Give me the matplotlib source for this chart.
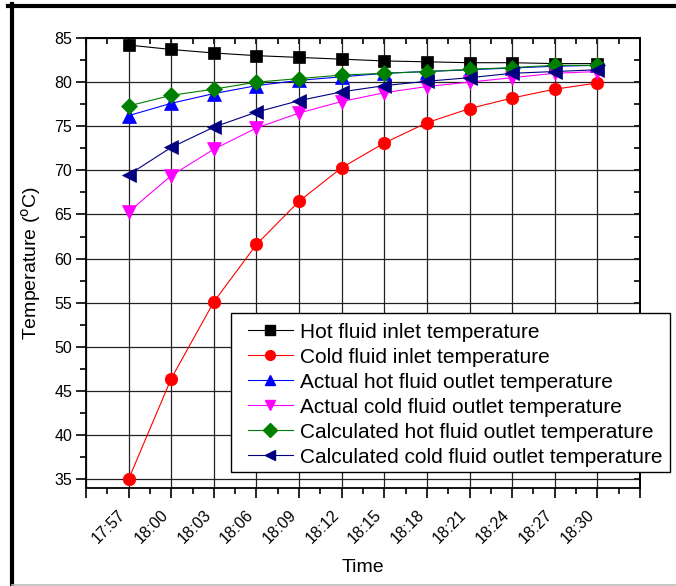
import matplotlib
matplotlib.use("Agg")
import matplotlib.pyplot as plt
import matplotlib.transforms as mtransforms
from matplotlib.ticker import MultipleLocator, FixedLocator, NullFormatter
from matplotlib.lines import Line2D
from matplotlib.patches import Rectangle

plt.rcParams['font.family'] = ['Liberation Sans', 'DejaVu Sans']

times = ["17:57", "18:00", "18:03", "18:06", "18:09", "18:12",
         "18:15", "18:18", "18:21", "18:24", "18:27", "18:30"]

hot_inlet = [84.2, 83.7, 83.3, 83.0, 82.8, 82.6, 82.4, 82.3, 82.2, 82.2, 82.1, 82.1]
cold_inlet = [35.0, 46.4, 55.1, 61.6, 66.5, 70.3, 73.1, 75.4, 77.0, 78.2, 79.2, 79.9]
actual_hot_outlet = [76.2, 77.6, 78.7, 79.6, 80.2, 80.6, 81.0, 81.2, 81.4, 81.6, 81.8, 81.9]
actual_cold_outlet = [65.3, 69.4, 72.4, 74.8, 76.5, 77.8, 78.8, 79.5, 80.0, 80.5, 81.0, 81.2]
calc_hot_outlet = [77.3, 78.5, 79.2, 80.0, 80.4, 80.8, 81.0, 81.2, 81.45, 81.65, 81.9, 81.9]
calc_cold_outlet = [69.5, 72.6, 74.9, 76.6, 77.9, 78.9, 79.6, 80.1, 80.5, 81.0, 81.2, 81.4]

series = [
    ("Hot fluid inlet temperature", hot_inlet, "black", "s"),
    ("Cold fluid inlet temperature", cold_inlet, "#ff0000", "o"),
    ("Actual hot fluid outlet temperature", actual_hot_outlet, "#0000ff", "^"),
    ("Actual cold fluid outlet temperature", actual_cold_outlet, "#ff00ff", "v"),
    ("Calculated hot fluid outlet temperature", calc_hot_outlet, "#008000", "D"),
    ("Calculated cold fluid outlet temperature", calc_cold_outlet, "#000080", "<"),
]
marker_sizes = {"s": 8.5, "o": 9, "^": 9.5, "v": 9.5, "D": 8, "<": 9.5}

W, H = 676, 586
fig = plt.figure(figsize=(W / 100, H / 100), dpi=100)
ax = fig.add_axes([86 / W, 1 - 488 / H, (640 - 86) / W, (488 - 38) / H])

x = list(range(len(times)))

ax.set_xlim(-1, 12)
ax.set_ylim(34, 85)

# grid first so the data sit on top
ax.set_axisbelow(True)
ax.grid(True, which="major", color="#222222", linewidth=0.9)

handles = []
for label, vals, color, mk in series:
    ax.plot(x, vals, color=color, linewidth=0.8, marker=mk,
            markersize=marker_sizes[mk], markerfacecolor=color,
            markeredgecolor=color, markeredgewidth=0.5, zorder=3)
    handles.append(Line2D([], [], color=color, linewidth=0.8, marker=mk,
                          markersize=7, markerfacecolor=color,
                          markeredgecolor=color))

ax.set_xticks(list(range(-1, 13)))
ax.xaxis.set_minor_locator(FixedLocator([i + 0.5 for i in range(-1, 12)]))
ax.set_xticklabels([""] + times + [""], rotation=45, ha="right", fontsize=11.5)
shift = mtransforms.ScaledTranslation(3 / 72, 0, fig.dpi_scale_trans)
for lbl in ax.get_xticklabels():
    lbl.set_transform(lbl.get_transform() + shift)

ax.set_yticks(list(range(35, 86, 5)))
ax.yaxis.set_minor_locator(MultipleLocator(2.5))
ax.tick_params(axis="y", labelsize=11.5)

for s in ax.spines.values():
    s.set_linewidth(1.3)
    s.set_color("black")

ax.tick_params(which="major", direction="out", length=7, width=1.2,
               top=False, right=False)
ax.tick_params(axis="y", which="major", pad=3)
ax.tick_params(axis="x", which="major", pad=7)
ax.tick_params(which="minor", direction="out", length=4, width=1.2,
               top=False, right=False)

# inward ticks on the top and right edges
top = ax.secondary_xaxis("top")
top.xaxis.set_major_locator(FixedLocator(list(range(-1, 13))))
top.xaxis.set_minor_locator(FixedLocator([i + 0.5 for i in range(-1, 12)]))
top.xaxis.set_major_formatter(NullFormatter())
top.tick_params(which="both", direction="in", length=4, width=1.2)
top.spines["top"].set_linewidth(1.3)

right = ax.secondary_yaxis("right")
right.yaxis.set_major_locator(MultipleLocator(5))
right.yaxis.set_minor_locator(MultipleLocator(2.5))
right.yaxis.set_major_formatter(NullFormatter())
right.tick_params(which="both", direction="in", length=4, width=1.2)
right.spines["right"].set_linewidth(1.3)

ax.set_xlabel("Time", fontsize=14, labelpad=9)
ax.set_ylabel("Temperature ($^{\\rm o}$C)", fontsize=14, labelpad=8)

# legend entries without their own frame; the box is drawn separately
leg = fig.legend(handles, [s[0] for s in series],
                 loc="upper left", bbox_to_anchor=(248 / W, 1 - 322.5 / H),
                 bbox_transform=fig.transFigure, borderaxespad=0, borderpad=0,
                 fontsize=15, frameon=False, handlelength=2.15,
                 handletextpad=0.34, labelspacing=0.29)
leg.set_zorder(11)
fig.add_artist(Rectangle((231 / W, 1 - 472 / H), (670 - 231) / W, (472 - 313) / H,
                         transform=fig.transFigure, facecolor="white",
                         edgecolor="black", linewidth=1.0, zorder=10))

# outer frame of the figure
fig.add_artist(Line2D([8 / W, 1.0], [1 - 5.5 / H, 1 - 5.5 / H],
                      transform=fig.transFigure, color="black", linewidth=3))
fig.add_artist(Line2D([11.5 / W, 11.5 / W], [0, 1 - 4 / H],
                      transform=fig.transFigure, color="black", linewidth=3))
fig.add_artist(Line2D([11.5 / W, 1.0], [1.0 / H, 1.0 / H],
                      transform=fig.transFigure, color="#bbbbbb", linewidth=1.2))

fig.savefig("out.png", dpi=100)
